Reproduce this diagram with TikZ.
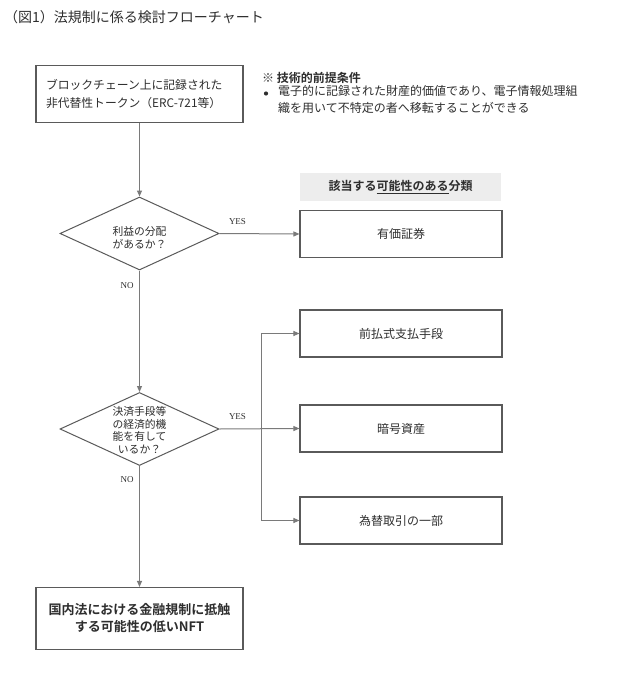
\documentclass[tikz,border=0pt]{standalone}
\usepackage{fontspec}
\setmainfont{Noto Sans CJK JP}[BoldFont={Noto Sans CJK JP Bold}]
\newfontfamily\latinserif{Liberation Serif}
\usetikzlibrary{arrows.meta,shapes.geometric}
\definecolor{txt}{HTML}{2E2E2E}
\definecolor{frame}{HTML}{5A5A5A}
\definecolor{conn}{HTML}{7A7A7A}
\definecolor{hdr}{HTML}{EDEDED}
\tikzset{
  box/.style={draw=frame, line width=1.1pt, fill=white, rectangle, inner sep=0pt, text=txt},
  catbox/.style={box, minimum width=202pt, minimum height=47pt, font=\fontsize{12}{14}\selectfont},
  dia/.style={draw=frame, line width=1pt, shape=diamond, inner sep=0pt, minimum width=159pt, minimum height=73pt},
  diatext/.style={align=center, text=txt, inner sep=0pt, font=\fontsize{10.8}{12.5}\selectfont},
  conn/.style={draw=conn, line width=1pt},
  arr/.style={conn, -{Triangle[length=6pt,width=5pt]}},
  yn/.style={text=txt, inner sep=0pt, font=\latinserif\fontsize{9}{10}\selectfont},
  plain/.style={text=txt, inner sep=0pt}
}
\begin{document}
\begin{tikzpicture}[x=1pt,y=-1pt]
\useasboundingbox[fill=white] (0,0) rectangle (623,680);

% title
\node[plain, anchor=west, font=\fontsize{14}{16}\selectfont] (title) at (4,17) {（図1）法規制に係る検討フローチャート};

% start box
\node[box, minimum width=207pt, minimum height=57pt, text width=187pt, align=left,
      font=\fontsize{11.8}{18}\selectfont] (start) at (139.5,94)
  {ブロックチェーン上に記録された\\非代替性トークン（ERC-721等）};

% notes
\node[plain, anchor=west, font=\bfseries\fontsize{12}{14}\selectfont] (nhead) at (262,78) {※ 技術的前提条件};
\node[plain, circle, fill=txt, minimum size=4.2pt] (nbullet) at (266,93.5) {};
\node[plain, anchor=north west, align=left, font=\fontsize{12}{17}\selectfont] (ntext) at (278,85)
  {電子的に記録された財産的価値であり、電子情報処理組\\織を用いて不特定の者へ移転することができる};

% header of categories
\node[fill=hdr, minimum width=201pt, minimum height=28pt, inner sep=0pt, text=txt,
      font=\bfseries\fontsize{12}{14}\selectfont] (hdr) at (400.5,187)
  {該当する\underline{可能性のある}分類};

% diamonds
\node[dia] (d1) at (139.5,233.5) {};
\node[diatext] (d1t) at (139.5,237.5) {利益の分配\\があるか？};
\node[dia] (d2) at (139.5,429) {};
\node[diatext] (d2t) at (139.5,430) {決済手段等\\の経済的機\\能を有して\\いるか？};

% category boxes
\node[catbox] (c1) at (401,234) {有価証券};
\node[catbox] (c2) at (401,333.5) {前払式支払手段};
\node[catbox] (c3) at (401,428.5) {暗号資産};
\node[catbox] (c4) at (401,520.5) {為替取引の一部};

% final box
\node[box, minimum width=207pt, minimum height=62pt, align=center,
      font=\bfseries\fontsize{13}{17}\selectfont] (final) at (139.5,618.5)
  {国内法における金融規制に抵触\\する可能性の低いNFT};

% labels
\node[yn] (yes1) at (237.5,222) {YES};
\node[yn] (no1) at (127,286) {NO};
\node[yn] (yes2) at (237.5,417) {YES};
\node[yn] (no2) at (127,480) {NO};

% branch coordinates
\coordinate (jt) at (261,333.5);
\coordinate (jb) at (261,520.5);

% connectors
\draw[arr] (start.south) -- (d1.north);
\draw[arr] (d1.east) -- (c1.west);
\draw[arr] (d1.south) -- (d2.north);
\draw[arr] (d2.east) -- (c3.west);
\draw[conn] (jt) -- (jb);
\draw[arr] (jt) -- (c2.west);
\draw[arr] (jb) -- (c4.west);
\draw[arr] (d2.south) -- (final.north);
\end{tikzpicture}
\end{document}
